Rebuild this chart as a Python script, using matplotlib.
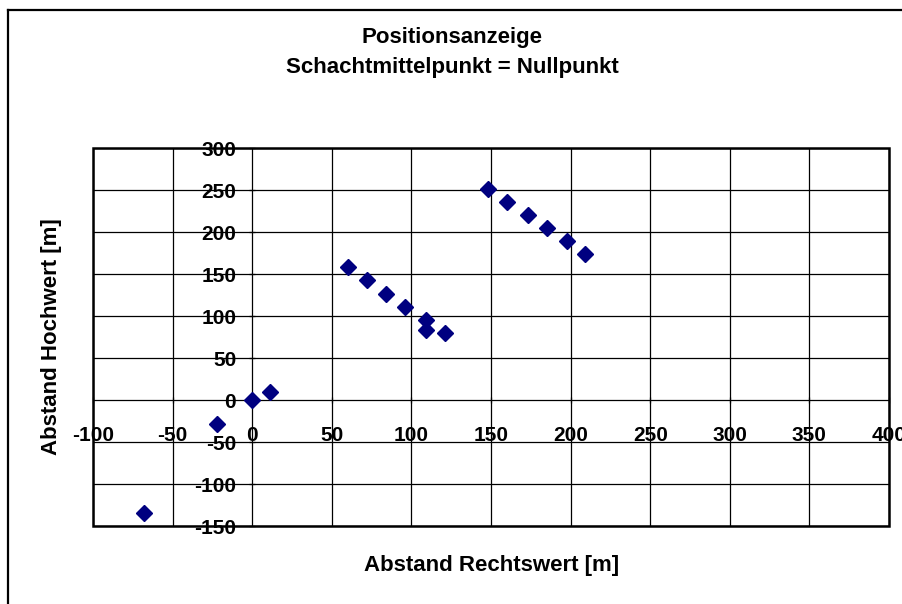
import matplotlib
matplotlib.use("Agg")
import matplotlib.pyplot as plt
from matplotlib.patches import Rectangle
from matplotlib.lines import Line2D

# Data
rechtswert = [-68, -22, 0, 11, 60, 72, 84, 96, 109, 109, 121, 148, 160, 173, 185, 198, 209]
hochwert = [-135, -28, 0, 10, 159, 143, 126, 111, 95, 84, 80, 252, 236, 221, 205, 190, 174]

x_ticks = [-100, -50, 0, 50, 100, 150, 200, 250, 300, 350, 400]
y_ticks = [-150, -100, -50, 0, 50, 100, 150, 200, 250, 300]

title_lines = ["Positionsanzeige", "Schachtmittelpunkt = Nullpunkt"]
x_label = "Abstand Rechtswert [m]"
y_label = "Abstand Hochwert [m]"

plt.rcParams['font.family'] = ['Liberation Sans', 'DejaVu Sans']
plt.rcParams['font.weight'] = 'bold'

W, H = 903, 604
fig = plt.figure(figsize=(W / 100, H / 100), dpi=100)
fig.patch.set_facecolor('white')

# outer chart border (left and top visible)
fig.add_artist(Line2D([7.5 / W, 7.5 / W], [0, 1 - 10 / H], color='black', lw=1.6, transform=fig.transFigure))
fig.add_artist(Line2D([7.5 / W, 1], [1 - 10 / H, 1 - 10 / H], color='black', lw=1.6, transform=fig.transFigure))

left, right, top, bottom = 93, 889, 148.3, 526
ax = fig.add_axes([left / W, 1 - bottom / H, (right - left) / W, (bottom - top) / H])

ax.set_xlim(-100, 400)
ax.set_ylim(-150, 300)
ax.set_xticks(x_ticks)
ax.set_yticks(y_ticks)
ax.set_xticklabels([str(v) for v in x_ticks])
ax.set_yticklabels([str(v) for v in y_ticks])

ax.grid(True, color='black', lw=0.9)
ax.set_axisbelow(True)

for s in ax.spines.values():
    s.set_visible(False)
ax.spines['left'].set_position(('data', 0))
ax.spines['bottom'].set_position(('data', 0))

ax.tick_params(axis='x', direction='inout', length=5, width=0.9, pad=16, labelsize=15)
ax.tick_params(axis='y', direction='inout', length=5, width=0.9, pad=9, labelsize=15)
for lab in ax.get_xticklabels() + ax.get_yticklabels():
    lab.set_fontweight('bold')

ax.add_patch(Rectangle((0, 0), 1, 1, transform=ax.transAxes, fill=False,
                       ec='black', lw=1.8, clip_on=False, zorder=5))

ax.plot(rechtswert, hochwert, linestyle='none', marker='D', markersize=8.5,
        color='#000080', markeredgecolor='#000080', zorder=6, clip_on=False)

fig.text(452 / W, 1 - 38 / H, title_lines[0], ha='center', va='center', fontsize=16, fontweight='bold')
fig.text(452 / W, 1 - 68 / H, title_lines[1], ha='center', va='center', fontsize=16, fontweight='bold')
fig.text(492 / W, 1 - 566 / H, x_label, ha='center', va='center', fontsize=16, fontweight='bold')
fig.text(52 / W, 1 - 337 / H, y_label, ha='center', va='center', rotation=90, fontsize=16, fontweight='bold')

fig.savefig('out.png', dpi=100)
